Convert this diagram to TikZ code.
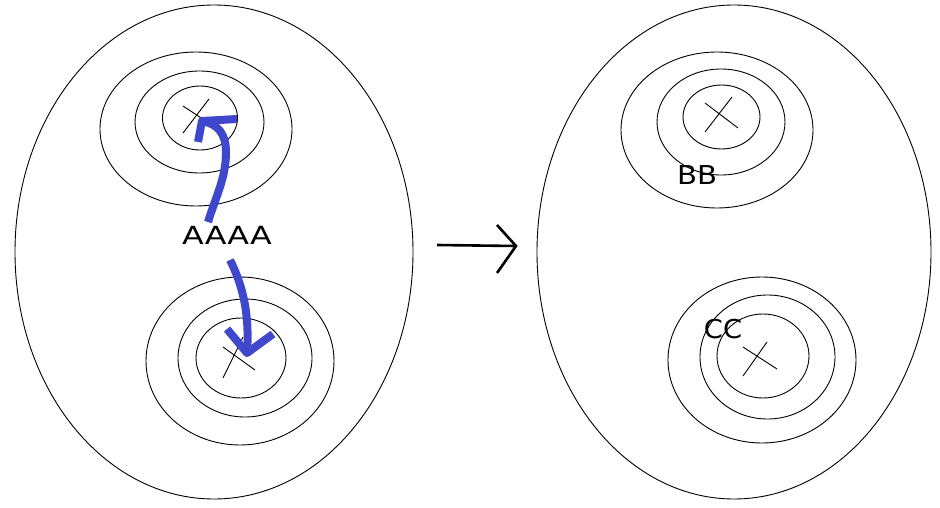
\documentclass[tikz,border=0pt]{standalone}
\usepackage{fontspec}
\setmainfont{DejaVu Sans}
\definecolor{paintblue}{HTML}{3F48CC}
\begin{document}
\begin{tikzpicture}[x=1pt,y=-1pt,
  thin line/.style={draw=black,line width=0.9pt},
  bluearrow/.style={draw=paintblue,line width=8pt,line join=round},
  lbl/.style={inner sep=0pt,font=\fontsize{25}{25}\selectfont}]
\useasboundingbox[fill=white] (0,0) rectangle (940,508);
% left blob
\draw[thin line] (214,252) ellipse [x radius=199,y radius=247];
\draw[thin line] (200,118) ellipse [x radius=37.5,y radius=32];
\draw[thin line] (199.5,122) ellipse [x radius=64.5,y radius=51];
\draw[thin line] (196,129) ellipse [x radius=96,y radius=77];
\draw[thin line] (183,106) -- (215,127);
\draw[thin line] (209,99) -- (183,133);
\coordinate (t1) at (202,121);
\draw[thin line] (241,358) ellipse [x radius=45,y radius=40];
\draw[thin line] (245,358) ellipse [x radius=67,y radius=59];
\draw[thin line] (240,361) ellipse [x radius=94,y radius=84];
\draw[thin line] (223,378) -- (243,337);
\draw[thin line] (223,347) -- (255,370);
\coordinate (b1) at (247,353);
\node[lbl,xscale=1.27] (A) at (227,235) {AAAA};
% blue arrows
\draw[bluearrow] (208,222) .. controls (216,196) and (226,178) .. (226,152)
  .. controls (226,134) and (218,124) .. (t1);
\draw[bluearrow] (198,142) -- (t1) -- (237,119);
\draw[bluearrow] (230,260) .. controls (241,282) and (250,310) .. (b1);
\draw[bluearrow] (227,329) -- (b1) -- (273,334);
% middle arrow
\coordinate (m1) at (437,245);
\coordinate (m2) at (516,246);
\draw[line width=2.6pt] (m1) -- (m2);
\draw[line width=2.6pt,line join=miter] (497,225) -- (m2) -- (497,273);
% right blob
\draw[thin line] (734,252) ellipse [x radius=197,y radius=247];
\draw[thin line] (721.5,117) ellipse [x radius=38.5,y radius=32];
\draw[thin line] (721,122) ellipse [x radius=64,y radius=53];
\draw[thin line] (717,130) ellipse [x radius=96,y radius=78];
\draw[thin line] (705,103) -- (738,128);
\draw[thin line] (732,97) -- (705,132);
\draw[thin line] (763,356) ellipse [x radius=46,y radius=42];
\draw[thin line] (767.5,357) ellipse [x radius=67.5,y radius=62];
\draw[thin line] (762,360) ellipse [x radius=94,y radius=83];
\draw[thin line] (743,347) -- (777,369);
\draw[thin line] (767,342) -- (743,376);
\node[lbl,xscale=1.12,font=\fontsize{26}{26}\selectfont] (B) at (697,175) {BB};
\node[lbl,xscale=1.05,font=\fontsize{26}{26}\selectfont] (C) at (723,329) {CC};
\end{tikzpicture}
\end{document}
